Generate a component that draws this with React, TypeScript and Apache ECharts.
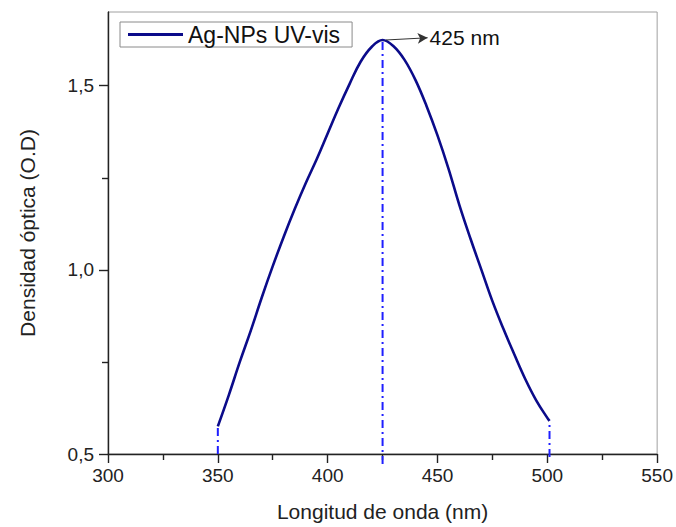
import React, { useEffect, useRef } from 'react';
import * as echarts from 'echarts';

const seriesName = 'Ag-NPs UV-vis';
const wavelengths = [350, 355, 360, 365, 370, 375, 380, 385, 390, 395, 400, 405, 410, 415, 420, 425, 430, 435, 440, 445, 450, 455, 460, 465, 470, 475, 480, 485, 490, 495, 500, 501];
const absorbance = [0.575, 0.66, 0.75, 0.835, 0.925, 1.01, 1.09, 1.165, 1.235, 1.3, 1.37, 1.44, 1.505, 1.565, 1.605, 1.624, 1.607, 1.57, 1.515, 1.445, 1.365, 1.275, 1.175, 1.085, 1.0, 0.915, 0.84, 0.77, 0.703, 0.645, 0.598, 0.59];
const xTicks = [300, 350, 400, 450, 500, 550];
const yTicks = [0.5, 1.0, 1.5];
const yMinorTicks = [0.75, 1.25];
const peakLabel = '425 nm';
const peakLabelAnchor = [445.5, 1.63];

const FONT = '"Liberation Sans", Arial, sans-serif';

export default function App() {
  const ref = useRef<HTMLDivElement>(null);
  useEffect(() => {
    if (!ref.current) return;
    const chart = echarts.init(ref.current, undefined, { renderer: 'svg' });
    const pts = wavelengths.map((w, i) => [w, absorbance[i]]);
    let pi = 0;
    absorbance.forEach((v, i) => { if (v > absorbance[pi]) pi = i; });
    const first = pts[0];
    const last = pts[pts.length - 1];
    const peak = pts[pi];
    const yMin = yTicks[0];
    const dropStyle = { color: '#1f1fff', width: 2, type: [8, 4, 2, 4] as any };
    const drop = (p: number[], ext: number) => ({
      type: 'line',
      name: '_drop' + p[0],
      data: [[p[0], yMin - ext], [p[0], p[1]]],
      showSymbol: false,
      clip: false,
      silent: true,
      lineStyle: dropStyle,
      z: 1,
    });
    const fmt = (v: number) => v.toFixed(1).replace('.', ',');
    const axisColor = '#222';
    chart.setOption({
      animation: false,
      backgroundColor: '#fff',
      grid: { left: 108, right: 16, top: 12, bottom: 71, show: true, borderColor: '#a0a0a0', borderWidth: 1 },
      legend: {
        data: [seriesName],
        left: 120,
        top: 22,
        padding: [1, 12, 1, 8],
        borderColor: '#8a8a8a',
        borderWidth: 1,
        backgroundColor: '#fff',
        icon: 'rect',
        itemWidth: 55,
        itemHeight: 3,
        itemGap: 6,
        textStyle: { fontSize: 23, color: '#111', fontFamily: FONT },
      },
      xAxis: {
        type: 'value',
        min: xTicks[0],
        max: xTicks[xTicks.length - 1],
        interval: 50,
        name: 'Longitud de onda (nm)',
        nameLocation: 'middle',
        nameGap: 47,
        nameTextStyle: { fontSize: 21, color: axisColor, fontFamily: FONT },
        axisLine: { onZero: false, lineStyle: { color: axisColor, width: 1.4 } },
        axisTick: { show: true, length: 9, lineStyle: { color: axisColor, width: 1.4 } },
        minorTick: { show: true, splitNumber: 2, length: 6, lineStyle: { color: axisColor, width: 1.4 } },
        splitLine: { show: false },
        minorSplitLine: { show: false },
        axisLabel: { fontSize: 19, color: axisColor, margin: 12, fontFamily: FONT },
      },
      yAxis: [
        {
          type: 'value',
          min: yTicks[0],
          max: 1.7,
          interval: 0.5,
          name: 'Densidad óptica (O.D)',
          nameLocation: 'middle',
          nameGap: 70,
          nameTextStyle: { fontSize: 21, color: axisColor, fontFamily: FONT },
          axisLine: { onZero: false, lineStyle: { color: axisColor, width: 1.4 } },
          axisTick: { show: true, length: 9, customValues: yTicks, lineStyle: { color: axisColor, width: 1.4 } },
          splitLine: { show: false },
          axisLabel: { fontSize: 19, color: axisColor, margin: 14, fontFamily: FONT, customValues: yTicks, formatter: fmt },
        },
        {
          type: 'value',
          position: 'left',
          min: yTicks[0],
          max: 1.7,
          interval: 0.25,
          axisLine: { show: false, onZero: false },
          axisTick: { show: true, length: 6, customValues: yMinorTicks, lineStyle: { color: axisColor, width: 1.4 } },
          splitLine: { show: false },
          axisLabel: { show: false },
        },
      ],
      series: [
        drop(first, 0),
        drop(peak, 0.027),
        drop(last, 0.008),
        {
          type: 'line',
          name: seriesName,
          data: pts,
          showSymbol: false,
          smooth: 0.4,
          color: '#0b0b8a',
          lineStyle: { color: '#0b0b8a', width: 2.6 },
          z: 3,
          markLine: {
            silent: true,
            symbol: ['none', 'arrow'],
            symbolSize: [8, 10],
            lineStyle: { color: '#333', width: 1, type: 'solid' },
            label: { show: true, position: 'end', formatter: peakLabel, fontSize: 21, color: '#111', fontFamily: FONT, distance: 2 },
            data: [[{ coord: [peak[0] + 1.5, peak[1]] }, { coord: peakLabelAnchor }]],
          },
        },
      ],
    });
    return () => chart.dispose();
  }, []);
  return <div ref={ref} style={{ position: 'fixed', left: 0, top: 0, width: 676, height: 527 }} />;
}
